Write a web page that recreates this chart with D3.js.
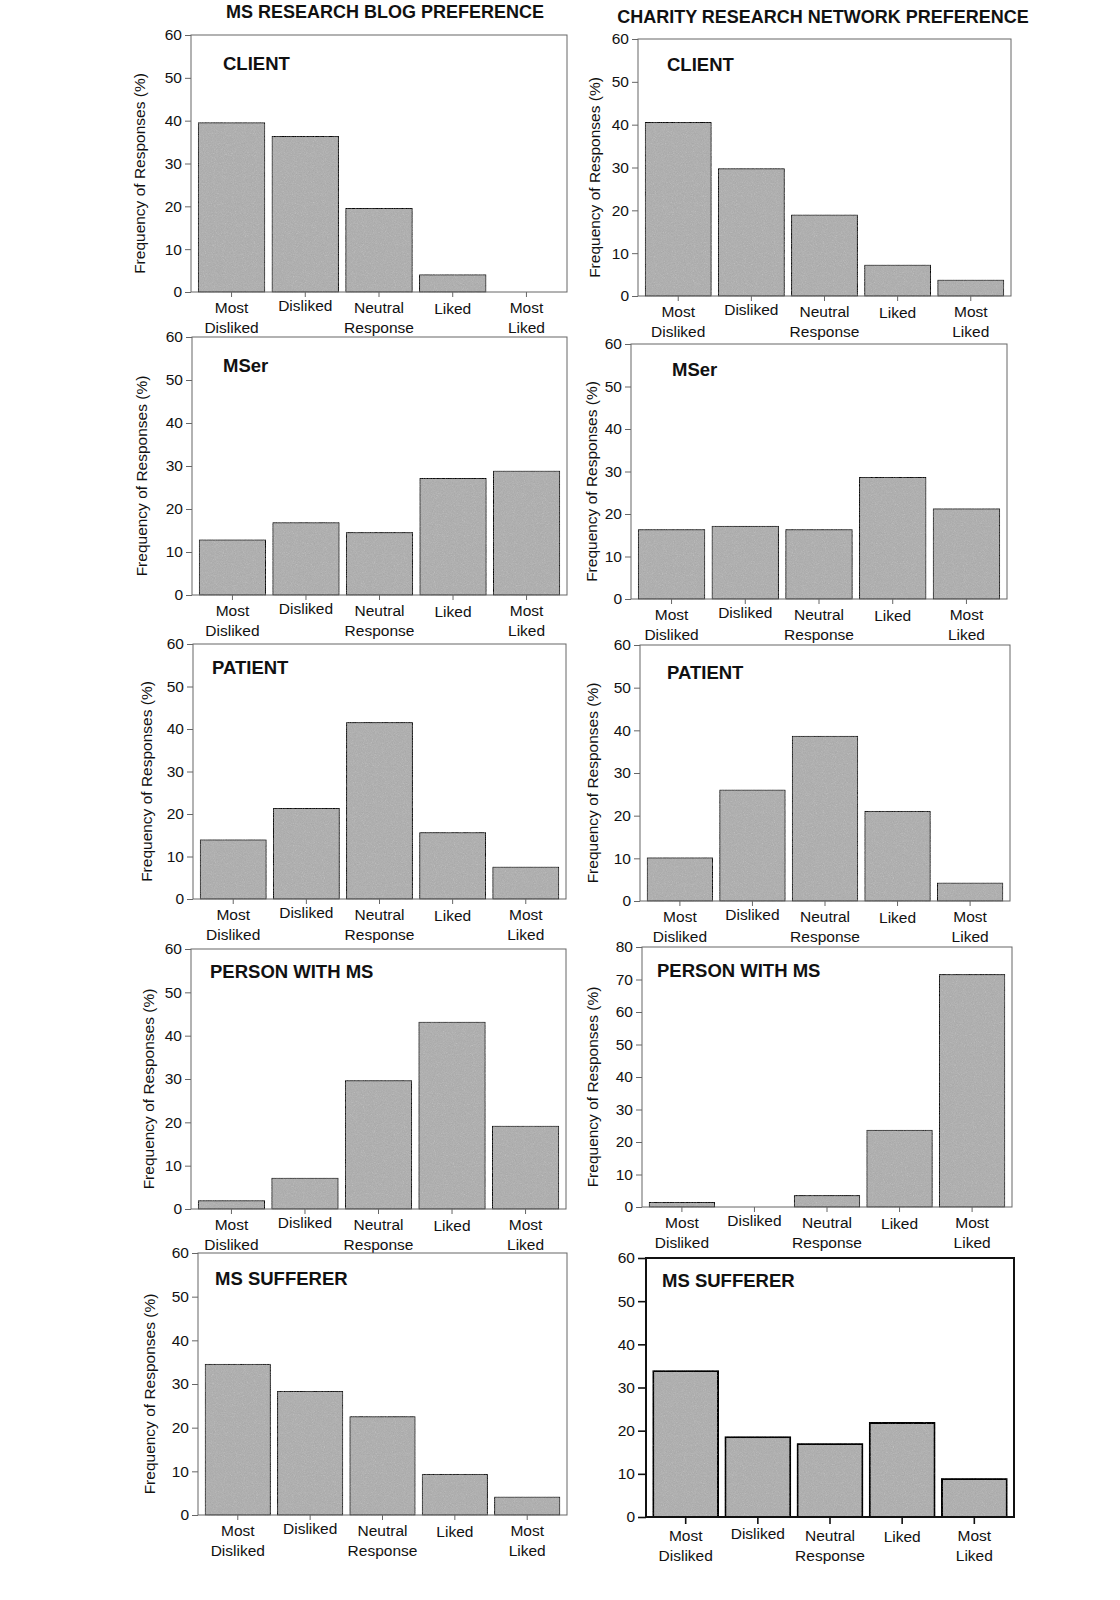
<!DOCTYPE html>
<html>
<head>
<meta charset="utf-8">
<script src="https://cdn.jsdelivr.net/npm/d3@7"></script>
<style>
  body { margin: 0; background: #fff; }
  svg { display: block; font-family: Arial, "Liberation Sans", sans-serif; }
</style>
</head>
<body>
<svg id="chart" width="1120" height="1600"></svg>
<script>
// categories and tick labels
var categories = ["Most Disliked", "Disliked", "Neutral Response", "Liked", "Most Liked"];
var catLines = [["Most", "Disliked"], ["Disliked"], ["Neutral", "Response"], ["Liked"], ["Most", "Liked"]];
var ticks60 = [0, 10, 20, 30, 40, 50, 60];
var ticks80 = [0, 10, 20, 30, 40, 50, 60, 70, 80];
var columnTitles = ["MS RESEARCH BLOG PREFERENCE", "CHARITY RESEARCH NETWORK PREFERENCE"];
var yTitle = "Frequency of Responses (%)";

// values (%)
var blogClient = [39.5, 36.3, 19.5, 4.0, 0];
var charityClient = [40.5, 29.7, 18.9, 7.2, 3.7];
var blogMSer = [12.8, 16.8, 14.5, 27.1, 28.8];
var charityMSer = [16.3, 17.1, 16.3, 28.6, 21.2];
var blogPatient = [13.9, 21.3, 41.5, 15.6, 7.5];
var charityPatient = [10.1, 26.0, 38.6, 21.0, 4.2];
var blogPersonWithMS = [1.9, 7.1, 29.6, 43.1, 19.1];
var charityPersonWithMS = [1.4, 0, 3.5, 23.6, 71.5];
var blogSufferer = [34.5, 28.3, 22.5, 9.3, 4.1];
var charitySufferer = [33.8, 18.5, 16.9, 21.8, 8.8];

// layout of each panel (frame box, label spot)
var panels = [
  {name: "CLIENT", data: blogClient, ticks: ticks60, L: 191, T: 35, R: 567, B: 292, lx: 223, ly: 70, tx: 51, showTitle: true},
  {name: "CLIENT", data: charityClient, ticks: ticks60, L: 638, T: 39, R: 1011, B: 296, lx: 667, ly: 71, tx: 43, showTitle: true},
  {name: "MSer", data: blogMSer, ticks: ticks60, L: 192, T: 337, R: 567, B: 595, lx: 223, ly: 372, tx: 50, showTitle: true},
  {name: "MSer", data: charityMSer, ticks: ticks60, L: 631, T: 344, R: 1007, B: 599, lx: 672, ly: 376, tx: 39, showTitle: true},
  {name: "PATIENT", data: blogPatient, ticks: ticks60, L: 193, T: 644, R: 566, B: 899, lx: 212, ly: 674, tx: 46, showTitle: true},
  {name: "PATIENT", data: charityPatient, ticks: ticks60, L: 640, T: 645, R: 1010, B: 901, lx: 667, ly: 679, tx: 47, showTitle: true},
  {name: "PERSON WITH MS", data: blogPersonWithMS, ticks: ticks60, L: 191, T: 949, R: 566, B: 1209, lx: 210, ly: 978, tx: 42, showTitle: true},
  {name: "PERSON WITH MS", data: charityPersonWithMS, ticks: ticks80, L: 642, T: 947, R: 1012, B: 1207, lx: 657, ly: 977, tx: 49, showTitle: true},
  {name: "MS SUFFERER", data: blogSufferer, ticks: ticks60, L: 198, T: 1253, R: 567, B: 1515, lx: 215, ly: 1285, tx: 48, showTitle: true},
  {name: "MS SUFFERER", data: charitySufferer, ticks: ticks60, L: 646, T: 1258, R: 1014, B: 1517, lx: 662, ly: 1287, tx: 48, showTitle: false, dark: true}
];

var svg = d3.select("#chart");
var fontSize = "15.5px";

// grainy grey fill like the original
var defs = svg.append("defs");
var f = defs.append("filter").attr("id", "grain");
f.append("feTurbulence").attr("type", "fractalNoise").attr("baseFrequency", 0.9)
  .attr("numOctaves", 2).attr("seed", 4).attr("result", "noise");
f.append("feColorMatrix").attr("in", "noise").attr("type", "saturate").attr("values", 0).attr("result", "gray");
f.append("feComposite").attr("in", "SourceGraphic").attr("in2", "gray").attr("operator", "arithmetic")
  .attr("k1", 0).attr("k2", 1).attr("k3", 0.26).attr("k4", -0.12).attr("result", "mix");
f.append("feComposite").attr("in", "mix").attr("in2", "SourceGraphic").attr("operator", "in");

svg.append("text").attr("x", 385).attr("y", 18).attr("text-anchor", "middle")
  .style("font-size", "18px").style("font-weight", "bold").attr("fill", "#111").text(columnTitles[0]);
svg.append("text").attr("x", 823).attr("y", 23).attr("text-anchor", "middle")
  .style("font-size", "18px").style("font-weight", "bold").attr("fill", "#111").text(columnTitles[1]);

panels.forEach(function(p){
  var axisColor = p.dark ? "#111" : "#666";
  var g = svg.append("g");

  var x = d3.scaleBand().domain(categories).range([p.L, p.R]).paddingInner(0.1).paddingOuter(0.1);
  var y = d3.scaleLinear().domain([0, d3.max(p.ticks)]).range([p.B, p.T]);

  // bars
  g.selectAll("rect.bar").data(p.data).enter().append("rect")
    .attr("class", "bar")
    .attr("x", function(d, i){ return x(categories[i]); })
    .attr("width", x.bandwidth())
    .attr("y", function(d){ return y(d); })
    .attr("height", function(d){ return p.B - y(d); })
    .attr("fill", "#b8b8b8")
    .attr("stroke", p.dark ? "#1a1a1a" : "#4a4a4a")
    .attr("stroke-width", p.dark ? 1.8 : 1)
    .attr("filter", "url(#grain)")
    .style("display", function(d){ return d > 0 ? null : "none"; });

  // frame
  g.append("rect").attr("x", p.L).attr("y", p.T)
    .attr("width", p.R - p.L).attr("height", p.B - p.T)
    .attr("fill", "none").attr("stroke", axisColor).attr("stroke-width", p.dark ? 2 : 1);

  // y axis
  var ya = g.append("g").attr("transform", "translate(" + p.L + ",0)")
    .call(d3.axisLeft(y).tickValues(p.ticks).tickSize(p.dark ? 8 : 6).tickPadding(3));
  ya.select(".domain").remove();
  ya.selectAll("line").attr("stroke", axisColor).attr("stroke-width", p.dark ? 1.6 : 1);
  ya.selectAll("text").style("font-size", fontSize).attr("fill", "#111").style("font-family", "Arial, 'Liberation Sans', sans-serif");

  // x axis ticks
  var xa = g.append("g").attr("transform", "translate(0," + p.B + ")")
    .call(d3.axisBottom(x).tickSize(p.dark ? 7 : 5).tickFormat(""));
  xa.select(".domain").remove();
  xa.selectAll("line").attr("stroke", axisColor).attr("stroke-width", p.dark ? 1.6 : 1);

  // category labels
  var shift = p.dark ? 3 : 0;
  categories.forEach(function(c, i){
    var lines = catLines[i];
    var cx = x(c) + x.bandwidth() / 2;
    var base = lines.length === 2 ? p.B + 21 : (c === "Liked" ? p.B + 22 : p.B + 19);
    var t = g.append("text").attr("x", cx).attr("text-anchor", "middle")
      .style("font-size", fontSize).attr("fill", "#111");
    lines.forEach(function(l, k){
      t.append("tspan").attr("x", cx).attr("y", base + shift + k * 20).text(l);
    });
  });

  // panel label
  g.append("text").attr("x", p.lx).attr("y", p.ly)
    .style("font-size", "18.5px").style("font-weight", "bold").attr("fill", "#111").text(p.name);

  // y title
  if (p.showTitle) {
    var my = (p.T + p.B) / 2 + 10;
    g.append("text").attr("transform", "translate(" + (p.L - p.tx) + "," + my + ") rotate(-90)")
      .attr("text-anchor", "middle").attr("dy", "0.35em")
      .style("font-size", fontSize).attr("fill", "#111").text(yTitle);
  }
});
</script>
</body>
</html>
